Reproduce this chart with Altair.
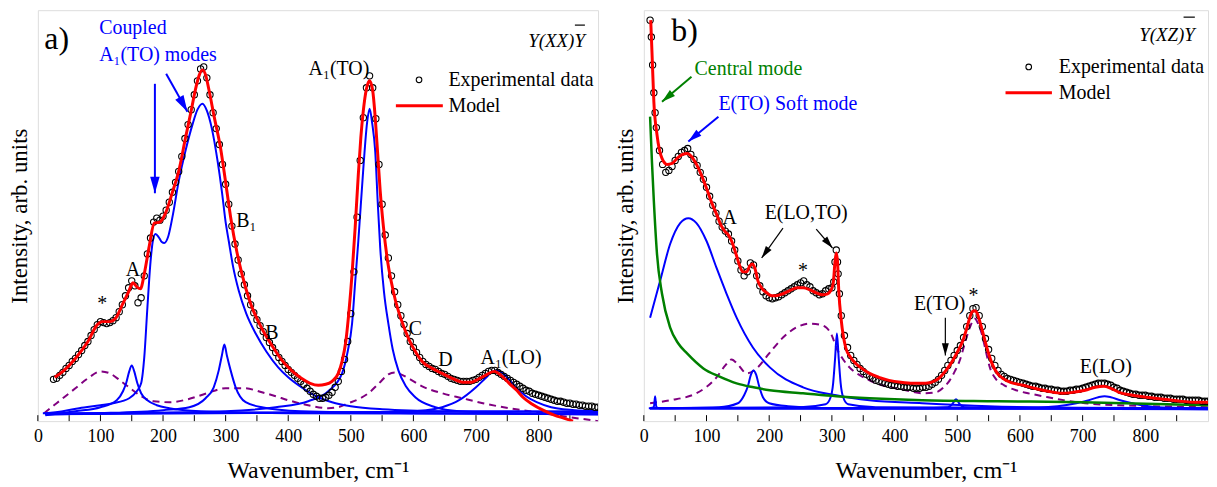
import math
import altair as alt
import pandas as pd

FONT = "Liberation Serif, Times New Roman, Times, serif"
A_W, B_W, H = 563, 567, 413
A_XMAX, B_XMAX, YMAX = 895, 900, 413
TICK_POS = list(range(0, 851, 50))
TICK_LABELS = [0, 100, 200, 300, 400, 500, 600, 700, 800]

# ---------------- Panel a) Y(XX)Y ----------------
A_EXP_WN = list(range(25, 896, 5))
A_EXP_VAL = [
    42, 43, 46, 49, 53, 56, 60, 63, 67, 71,
    76, 80, 86, 92, 97, 100, 99, 98, 99, 101,
    104, 110, 117, 126, 134, 141, 136, 119, 124, 146,
    168, 184, 200, 204, 202, 206, 212, 220, 230, 240,
    251, 266, 284, 298, 313, 328, 342, 354, 356, 345,
    328, 310, 294, 278, 258, 238, 218, 196, 178, 162,
    148, 137, 126, 117, 109, 102, 96, 90, 84, 79,
    74, 69, 64, 60, 56, 52, 49, 46, 43, 40,
    37, 33, 30, 27, 25, 23, 23, 24, 26, 29,
    34, 40, 50, 62, 80, 108, 150, 205, 262, 305,
    335, 347, 335, 304, 258, 218, 187, 164, 146, 130,
    117, 106, 97, 88, 80, 74, 69, 64, 60, 57,
    55, 53, 52, 50, 48, 47, 45, 43, 42, 41,
    40, 40, 40, 40, 41, 42, 44, 46, 48, 50,
    51, 51, 49, 47, 45, 43, 41, 39, 37, 35,
    33, 31, 30, 28, 27, 26, 25, 24, 23, 22,
    21, 20, 20, 19, 18, 18, 17, 17, 16, 16,
    15, 15, 15, 14, 14,
]
A_MODEL = [[27, 44], [40, 50], [60, 63], [80, 80], [95, 97], [103, 100], [115, 100], [125, 104],
           [135, 117], [145, 130], [152, 139], [158, 135], [164, 133], [170, 148], [178, 176],
           [186, 199], [195, 200], [204, 209], [215, 230], [225, 251], [236, 285], [245, 312],
           [252, 334], [258, 348], [263, 353], [268, 348], [273, 334], [282, 305], [292, 274],
           [300, 240], [308, 205], [318, 170], [326, 148], [340, 118], [358, 93], [375, 75],
           [390, 61], [405, 51], [421, 43], [435, 38], [448, 36], [460, 37], [470, 40], [480, 48],
           [486, 60], [492, 80], [497, 110], [502, 148], [507, 195], [512, 248], [516, 285],
           [520, 312], [525, 334], [530, 342], [535, 332], [539, 305], [543, 268], [547, 231],
           [552, 196], [558, 164], [565, 139], [571, 122], [580, 103], [593, 82], [605, 68],
           [614, 60], [630, 53], [646, 48], [662, 43], [679, 39], [692, 39], [700, 41], [715, 46],
           [729, 50], [740, 46], [753, 38], [765, 31], [775, 24], [790, 17], [807, 11], [825, 6],
           [840, 3], [855, 0]]
A_COUPLED = [[12, 8], [40, 10], [66, 13], [100, 16], [120, 18], [146, 23], [158, 30], [165, 38],
             [170, 64], [175, 114], [180, 160], [184, 182], [188, 188], [193, 185], [198, 180],
             [202, 179], [208, 185], [215, 205], [225, 241], [236, 272], [247, 298], [255, 313],
             [263, 319], [270, 312], [278, 294], [287, 262], [294, 231], [300, 200], [305, 181],
             [312, 155], [321, 131], [333, 108], [348, 88], [365, 70], [384, 54], [400, 44],
             [421, 34], [448, 24], [470, 19], [500, 15], [550, 12], [650, 10], [895, 9]]
A_PEAK_A = [[12, 6], [60, 10], [100, 14], [126, 21], [136, 30], [141, 38], [146, 50], [150, 56],
            [154, 50], [159, 38], [165, 28], [175, 21], [190, 16], [210, 13], [260, 10], [400, 8],
            [895, 7]]
A_PEAK_300 = [[12, 7], [100, 8], [200, 11], [242, 14], [268, 23], [281, 34], [289, 51], [294, 66],
              [298, 77], [302, 66], [308, 51], [316, 34], [332, 19], [358, 14], [420, 10],
              [600, 8], [895, 7]]
A_A1TO = [[12, 7], [300, 10], [380, 14], [432, 20], [464, 30], [486, 48], [495, 70], [502, 98],
          [507, 140], [512, 181], [520, 254], [526, 300], [530, 314], [534, 300], [539, 271],
          [543, 220], [547, 174], [553, 130], [560, 98], [567, 72], [576, 51], [588, 35],
          [603, 24], [635, 14], [673, 10], [760, 8], [895, 7]]
A_A1LO = [[12, 7], [560, 9], [620, 11], [646, 14], [673, 21], [700, 34], [715, 43], [727, 50],
          [735, 51], [745, 47], [765, 33], [780, 25], [797, 19], [820, 14], [839, 12], [895, 10]]
A_BASE = [[8, 8], [895, 10]]
A_DASHED = [[10, 8], [30, 18], [60, 33], [80, 43], [100, 50], [115, 48], [133, 40], [150, 32],
            [165, 25], [185, 20], [210, 19], [240, 22], [270, 28], [300, 33], [330, 33], [358, 29],
            [380, 25], [400, 21], [432, 16], [464, 13], [480, 14], [496, 18], [512, 22], [528, 28],
            [545, 38], [560, 47], [571, 49], [580, 47], [595, 42], [614, 35], [646, 28], [678, 23],
            [711, 18], [753, 13], [807, 8], [861, 3], [895, 0]]

A_LABELS_BLACK = [["*", 103, 118], ["A", 152, 152], ["B₁", 333, 201], ["B", 374, 89],
                  ["A₁(TO)", 481, 354], ["C", 603, 93], ["D", 651, 61], ["A₁(LO)", 756, 63]]
A_LABELS_BLUE = [["Coupled", 98, 395], ["A₁(TO) modes", 98, 368]]
A_ARROWS_BLUE = [[187, 339, 187, 229], [205, 349, 239, 311]]
A_POL = ["Y(XX)Y", 874, 382]
A_OVERLINE = [858, 874, 398]
A_PANEL = ["a)", 30, 384]
A_LEG = {"pt": [609, 343], "txt1": [656, 343], "line": [572, 647, 317], "txt2": [656, 317]}

# ---------------- Panel b) Y(XZ)Y ----------------
B_EXP_WN = [10, 12, 14, 16, 18, 20] + list(range(25, 901, 5)) + [303, 307, 309, 312]
B_EXP_VAL = [
    403, 386, 358, 330, 310, 295,
    272, 258, 250, 252, 256, 262, 266, 270, 272, 274,
    268, 263, 257, 250, 243, 235, 226, 217, 209, 201,
    195, 191, 188, 181, 172, 161, 152, 146, 150, 159,
    157, 146, 136, 130, 126, 124, 123, 124, 125, 127,
    129, 131, 133, 135, 137, 139, 141, 137, 135, 131,
    129, 127, 128, 131, 133, 134, 160, 148, 106, 86,
    74, 66, 61, 57, 53, 50, 47, 45, 43, 41,
    40, 39, 38, 37, 36, 36, 35, 35, 34, 34,
    34, 33, 33, 33, 34, 34, 35, 37, 39, 42,
    46, 51, 56, 61, 66, 71, 76, 84, 95, 106,
    113, 114, 106, 95, 83, 72, 63, 56, 51, 47,
    45, 43, 42, 41, 40, 39, 38, 37, 36, 35,
    35, 34, 33, 33, 32, 32, 31, 31, 30, 30,
    30, 31, 31, 32, 32, 33, 34, 35, 36, 37,
    38, 38, 38, 37, 36, 34, 33, 31, 30, 29,
    28, 27, 27, 26, 26, 26, 25, 25, 24, 24,
    24, 23, 23, 23, 22, 22, 22, 22, 21, 21,
    21, 21, 21, 20, 20, 20,
    140, 172, 160, 128,
]
B_MODEL = [[11, 403], [13, 371], [16, 321], [21, 288], [29, 264], [37, 258], [45, 259], [53, 264],
           [62, 268], [69, 269], [76, 266], [84, 258], [92, 247], [100, 234], [108, 220], [116, 208],
           [123, 197], [129, 191], [135, 187], [140, 181], [147, 168], [153, 156], [158, 150],
           [164, 150], [169, 156], [173, 158], [177, 154], [182, 141], [189, 133], [196, 129],
           [204, 126], [211, 126], [222, 128], [232, 131], [245, 134], [254, 134], [265, 132],
           [275, 129], [285, 127], [293, 128], [298, 131], [302, 138], [305, 160], [307, 169],
           [309, 160], [311, 131], [315, 101], [322, 74], [330, 64], [338, 58], [350, 52],
           [360, 48], [375, 44], [391, 41], [410, 39], [430, 38], [450, 38], [466, 41], [474, 45],
           [482, 51], [490, 58], [499, 68], [509, 81], [515, 93], [520, 104], [524, 110],
           [528, 111], [532, 108], [536, 100], [540, 91], [545, 79], [550, 68], [556, 57],
           [564, 48], [575, 42], [585, 39], [605, 36], [623, 33], [645, 30], [667, 28], [685, 29],
           [704, 31], [720, 34], [734, 35], [745, 33], [758, 29], [780, 26], [802, 24], [830, 22],
           [856, 20], [880, 19], [900, 19]]
B_CENTRAL = [[10, 306], [13, 260], [16, 221], [21, 168], [29, 128], [42, 94], [55, 78], [69, 68],
             [95, 53], [120, 45], [148, 38], [175, 34], [201, 31], [254, 28], [307, 25], [360, 23],
             [444, 21], [564, 20], [700, 19], [900, 16]]
B_SOFT = [[10, 104], [26, 141], [42, 178], [58, 199], [71, 204], [84, 199], [100, 181], [116, 154],
          [132, 128], [148, 104], [174, 74], [201, 54], [254, 34], [307, 26], [360, 21], [444, 18],
          [550, 15], [700, 13], [900, 12]]
B_P176 = [[10, 13], [120, 14], [150, 18], [160, 26], [166, 35], [171, 47], [175, 51], [179, 47],
          [184, 35], [190, 24], [200, 18], [230, 15], [300, 13], [900, 13]]
B_P308 = [[10, 13], [250, 14], [290, 17], [298, 24], [302, 38], [305, 62], [308, 88], [311, 62],
          [314, 38], [318, 24], [326, 17], [370, 14], [900, 13]]
B_P18 = [[10, 13], [16, 14], [18, 25], [20, 14], [25, 13], [900, 13]]
B_P498 = [[10, 13], [440, 13], [485, 14], [492, 17], [498, 22], [504, 17], [511, 14], [550, 13],
          [900, 13]]
B_ELO = [[10, 13], [600, 13], [660, 15], [690, 18], [710, 21], [725, 24], [735, 25], [745, 24],
         [760, 21], [786, 17], [820, 14], [900, 13]]
B_BASE = [[8, 13], [900, 12]]
B_DASHED = [[10, 18], [42, 21], [84, 28], [116, 44], [130, 56], [140, 62], [150, 57], [164, 48],
            [180, 53], [200, 68], [222, 84], [243, 94], [265, 98], [280, 97], [291, 94], [300, 86],
            [307, 74], [318, 62], [328, 54], [345, 46], [360, 41], [380, 36], [402, 33], [425, 30],
            [444, 28], [466, 29], [480, 35], [488, 41], [496, 50], [504, 61], [512, 78], [520, 94],
            [528, 103], [534, 97], [539, 88], [545, 72], [552, 54], [562, 42], [575, 36],
            [594, 31], [613, 28], [637, 25], [661, 22], [704, 18], [758, 16], [812, 15], [900, 14]]

B_LABELS_BLACK = [["A", 137, 204], ["E(LO,TO)", 259, 209], ["*", 254, 151], ["E(TO)", 472, 118],
                  ["*", 526, 126], ["E(LO)", 737, 54]]
B_LABELS_GREEN = [["Central mode", 81, 354]]
B_LABELS_BLUE = [["E(TO) Soft mode", 119, 319]]
B_ARROWS_BLACK = [[222, 194, 188, 164], [275, 193, 301, 174], [481, 104, 481, 66]]
B_ARROWS_GREEN = [[76, 346, 29, 321]]
B_ARROWS_BLUE = [[119, 306, 71, 281]]
B_POL = ["Y(XZ)Y", 879, 388]
B_OVERLINE = [861, 879, 406]
B_PANEL = ["b)", 65, 392]
B_LEG = {"pt": [614, 356], "txt1": [662, 356], "line": [577, 651, 330], "txt2": [662, 330]}

RED = "#ff0000"
BLUE = "#0000ff"
PURPLE = "#800080"
GREEN = "#008000"
HEAD = "M0,0L-0.36,1.25L0.36,1.25Z"


def curve(pts, name):
    return pd.DataFrame({"wn": [p[0] for p in pts], "val": [p[1] for p in pts], "s": name})


def arrow_df(arrows, w, xmax):
    sx = w / xmax
    rows = []
    for x1, y1, x2, y2 in arrows:
        dx = (x2 - x1) * sx
        dy = -(y2 - y1)
        ang = math.degrees(math.atan2(dx, -dy)) % 360
        rows.append(dict(x1=x1, y1=y1, x2=x2, y2=y2, ang=ang))
    return pd.DataFrame(rows)


def labels_df(items):
    return pd.DataFrame({"t": [i[0] for i in items], "wn": [i[1] for i in items],
                         "val": [i[2] for i in items]})


def panel(w, xmax, exp_wn, exp_val, model, blues, dashed, green, lbl_black, lbl_blue, lbl_green,
          arrows, pol, overline, plabel, leg):
    xs = alt.Scale(domain=[0, xmax], nice=False, zero=False)
    ys = alt.Scale(domain=[0, YMAX], nice=False, zero=False)
    xaxis = alt.Axis(values=TICK_LABELS, format="d", labelFont=FONT, labelFontSize=18,
                     labelColor="black", labelPadding=6, labelFlush=False, domain=False,
                     ticks=False, grid=False, title="Wavenumber, cm⁻¹", titleFont=FONT,
                     titleFontSize=24, titleFontWeight="normal", titleColor="black",
                     titlePadding=14)
    yaxis = alt.Axis(labels=False, ticks=False, domain=False, grid=False,
                     title="Intensity, arb. units", titleFont=FONT, titleFontSize=23,
                     titleFontWeight="normal", titleColor="black", titlePadding=6)
    X = alt.X("wn:Q", scale=xs, axis=xaxis)
    Y = alt.Y("val:Q", scale=ys, axis=yaxis)

    layers = []
    ticks = pd.DataFrame({"wn": TICK_POS})
    layers.append(alt.Chart(ticks).mark_rule(color="black", strokeWidth=1).encode(
        x=X, y=alt.value(H), y2=alt.value(H - 6)))
    layers.append(alt.Chart(curve(dashed, "d")).mark_line(
        color=PURPLE, strokeWidth=2, strokeDash=[7, 5], interpolate="monotone", clip=True
    ).encode(x=X, y=Y))
    bdf = pd.concat([curve(p, f"b{i}") for i, p in enumerate(blues)])
    layers.append(alt.Chart(bdf).mark_line(
        color=BLUE, strokeWidth=2, interpolate="monotone", clip=True
    ).encode(x=X, y=Y, detail="s:N"))
    if green is not None:
        layers.append(alt.Chart(curve(green, "g")).mark_line(
            color=GREEN, strokeWidth=2.5, interpolate="monotone", clip=True
        ).encode(x=X, y=Y))
    edf = pd.DataFrame({"wn": exp_wn, "val": exp_val})
    layers.append(alt.Chart(edf).mark_point(
        shape="circle", filled=False, color="black", size=40, strokeWidth=1.1, opacity=1,
        clip=True
    ).encode(x=X, y=Y))
    layers.append(alt.Chart(curve(model, "m")).mark_line(
        color=RED, strokeWidth=3, interpolate="monotone", clip=True
    ).encode(x=X, y=Y))

    for items, color in ((lbl_black, "black"), (lbl_blue, BLUE), (lbl_green, GREEN)):
        if not items:
            continue
        al = "center" if color == "black" else "left"
        layers.append(alt.Chart(labels_df(items)).mark_text(
            font=FONT, fontSize=20, color=color, align=al, baseline="middle"
        ).encode(x=X, y=Y, text="t:N"))
    for arr, color, sw, size in arrows:
        adf = arrow_df(arr, w, xmax)
        layers.append(alt.Chart(adf).mark_rule(color=color, strokeWidth=sw).encode(
            x=alt.X("x1:Q", scale=xs, axis=xaxis), x2="x2:Q",
            y=alt.Y("y1:Q", scale=ys, axis=yaxis), y2="y2:Q"))
        layers.append(alt.Chart(adf).mark_point(
            shape=HEAD, filled=True, color=color, opacity=1, size=size, strokeWidth=0
        ).encode(x=alt.X("x2:Q", scale=xs, axis=xaxis), y=alt.Y("y2:Q", scale=ys, axis=yaxis),
                 angle=alt.Angle("ang:Q", scale=None)))
    layers.append(alt.Chart(labels_df([pol])).mark_text(
        font=FONT, fontSize=19, fontStyle="italic", color="black", align="right",
        baseline="middle").encode(x=X, y=Y, text="t:N"))
    ol = pd.DataFrame({"a": [overline[0]], "b": [overline[1]], "v": [overline[2]]})
    layers.append(alt.Chart(ol).mark_rule(color="black", strokeWidth=1.2).encode(
        x=alt.X("a:Q", scale=xs, axis=xaxis), x2="b:Q", y=alt.Y("v:Q", scale=ys, axis=yaxis)))
    layers.append(alt.Chart(labels_df([plabel])).mark_text(
        font=FONT, fontSize=32, color="black", align="center", baseline="middle"
    ).encode(x=X, y=Y, text="t:N"))
    lp = pd.DataFrame({"wn": [leg["pt"][0]], "val": [leg["pt"][1]]})
    layers.append(alt.Chart(lp).mark_point(shape="circle", filled=False, color="black",
                                           size=32, strokeWidth=1.1, opacity=1).encode(x=X, y=Y))
    lt = labels_df([["Experimental data", leg["txt1"][0], leg["txt1"][1]],
                    ["Model", leg["txt2"][0], leg["txt2"][1]]])
    layers.append(alt.Chart(lt).mark_text(font=FONT, fontSize=20, color="black", align="left",
                                          baseline="middle").encode(x=X, y=Y, text="t:N"))
    ll = pd.DataFrame({"a": [leg["line"][0]], "b": [leg["line"][1]], "v": [leg["line"][2]]})
    layers.append(alt.Chart(ll).mark_rule(color=RED, strokeWidth=3).encode(
        x=alt.X("a:Q", scale=xs, axis=xaxis), x2="b:Q", y=alt.Y("v:Q", scale=ys, axis=yaxis)))

    return alt.layer(*layers).properties(width=w, height=H)


chart_a = panel(A_W, A_XMAX, A_EXP_WN, A_EXP_VAL, A_MODEL,
                [A_BASE, A_COUPLED, A_PEAK_A, A_PEAK_300, A_A1TO, A_A1LO], A_DASHED, None,
                A_LABELS_BLACK, A_LABELS_BLUE, [],
                [(A_ARROWS_BLUE, BLUE, 2, 700)], A_POL, A_OVERLINE, A_PANEL, A_LEG)
chart_b = panel(B_W, B_XMAX, B_EXP_WN, B_EXP_VAL, B_MODEL,
                [B_BASE, B_SOFT, B_P176, B_P308, B_P18, B_P498, B_ELO], B_DASHED, B_CENTRAL,
                B_LABELS_BLACK, B_LABELS_BLUE, B_LABELS_GREEN,
                [(B_ARROWS_BLACK, "black", 1.2, 380), (B_ARROWS_GREEN, GREEN, 2, 480),
                 (B_ARROWS_BLUE, BLUE, 2, 480)], B_POL, B_OVERLINE, B_PANEL, B_LEG)

chart = alt.hconcat(chart_a, chart_b, spacing=46, bounds="flush").properties(
    padding={"left": 0, "top": 0, "right": 0, "bottom": 0}
).configure_view(stroke="black", strokeWidth=1.5).configure(font=FONT)

chart.save("out.html", embed_options={"renderer": "svg", "actions": False})
